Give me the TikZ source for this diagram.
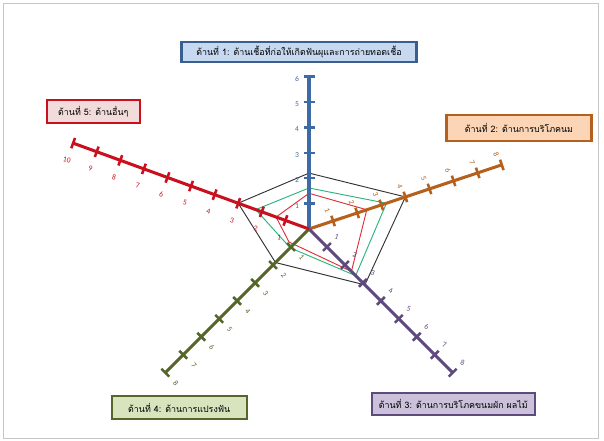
\documentclass[tikz,border=0pt]{standalone}
\usepackage{fontspec}
\setmainfont{Carlito}
\newfontfamily\thaifont[Script=Thai]{Loma}
\usetikzlibrary{calc}
\definecolor{axblue}{HTML}{3E6AA6}
\definecolor{axorange}{HTML}{B5601C}
\definecolor{axpurple}{HTML}{5E4A7D}
\definecolor{axolive}{HTML}{566629}
\definecolor{axred}{HTML}{C8101E}
\definecolor{fblue}{HTML}{C6D9F1}
\definecolor{forange}{HTML}{FBD5B5}
\definecolor{fpurple}{HTML}{CCC1DA}
\definecolor{folive}{HTML}{D7E4BD}
\definecolor{fred}{HTML}{F2DCDB}
\definecolor{dblue}{HTML}{3B5E91}
\definecolor{polyk}{HTML}{333333}
\definecolor{polyg}{HTML}{2DB37B}
\definecolor{polyr}{HTML}{E0303A}
\tikzset{
  axisline/.style={line width=2.6pt},
  tickline/.style={line width=2.2pt},
  ticklbl/.style={font=\fontsize{6.5}{7}\selectfont, inner sep=0pt},
  polyline/.style={line width=0.8pt, line join=miter},
  legendbox/.style={line width=1.8pt, inner sep=0pt, font=\thaifont\fontsize{7.6}{9}\selectfont, align=center}
}
\begin{document}
\begin{tikzpicture}[x=0.03cm,y=0.03cm]
\useasboundingbox (0,0) rectangle (604,441);
\draw[gray!45, line width=0.6pt] (3,3) rectangle (598,438);
\coordinate (o) at (309,212);

% polygons
\begin{scope}[shift={(o)}]
\draw[polyline, polyk] (90:55.9) -- (18.4:101.6) -- (-45:79) -- (-135:47.4) -- (160:75.4) -- cycle;
\draw[polyline, polyg] (90:41) -- (18.4:81.6) -- (-45:66) -- (-135:26.6) -- (160:56.7) -- cycle;
\draw[polyline, polyr] (90:35.7) -- (18.4:60.9) -- (-45:60) -- (-20,-13) -- (160:35) -- cycle;
\end{scope}

% axis 1 (blue)
\begin{scope}[shift={(o)}, rotate=90]
\coordinate (e1) at (6*25.4,0);
\draw[axisline, axblue] (0,0) -- (e1);
\foreach \i in {1,...,6} {
  \draw[tickline, axblue] (\i*25.4,-5.5) -- (\i*25.4,5.5);
  \node[ticklbl, text=axblue] (l1\i) at (\i*25.4-2,12) {\i};
}
\end{scope}
% axis 2 (orange)
\begin{scope}[shift={(o)}, rotate=18.4]
\coordinate (e2) at (8*25.4,0);
\draw[axisline, axorange] (0,0) -- (e2);
\foreach \i in {1,...,8} {
  \draw[tickline, axorange] (\i*25.4,-5.5) -- (\i*25.4,5.5);
  \node[ticklbl, text=axorange, rotate=-70] (l2\i) at (\i*25.4-2,12) {\i};
}
\end{scope}
% axis 3 (purple)
\begin{scope}[shift={(o)}, rotate=-45]
\coordinate (e3) at (8*25.4,0);
\draw[axisline, axpurple] (0,0) -- (e3);
\foreach \i in {1,...,8} {
  \draw[tickline, axpurple] (\i*25.4,-5.5) -- (\i*25.4,5.5);
  \node[ticklbl, text=axpurple, rotate=-20] (l3\i) at (\i*25.4,14) {\i};
}
\end{scope}
% axis 4 (olive)
\begin{scope}[shift={(o)}, rotate=-135]
\coordinate (e4) at (8*25.4,0);
\draw[axisline, axolive] (0,0) -- (e4);
\foreach \i in {1,...,8} {
  \draw[tickline, axolive] (\i*25.4,-5.5) -- (\i*25.4,5.5);
  \node[ticklbl, text=axolive, rotate=-50] (l4\i) at (\i*25.4,15) {\i};
}
\end{scope}
% axis 5 (red)
\begin{scope}[shift={(o)}, rotate=160]
\coordinate (e5) at (10*25.1,0);
\draw[axisline, axred] (0,0) -- (e5);
\foreach \i in {1,...,10} {
  \draw[tickline, axred] (\i*25.1,-5.5) -- (\i*25.1,5.5);
  \node[ticklbl, text=axred, rotate=-12] (l5\i) at (\i*25.1,18) {\i};
}
\end{scope}

% legend boxes
\node[legendbox, draw=dblue, fill=fblue, minimum width=7.05cm, minimum height=0.6cm] (b1) at (299,389.3)
  {ด้านที่ 1: ด้านเชื้อที่ก่อให้เกิดฟันผุและการถ่ายทอดเชื้อ};
\node[legendbox, draw=axorange, fill=forange, minimum width=4.35cm, minimum height=0.78cm] (b2) at (519,313)
  {ด้านที่ 2: ด้านการบริโภคนม};
\node[legendbox, draw=axpurple, fill=fpurple, minimum width=4.9cm, minimum height=0.66cm] (b3) at (453.3,36.8)
  {ด้านที่ 3: ด้านการบริโภคขนมผัก ผลไม้};
\node[legendbox, draw=axolive, fill=folive, minimum width=4.05cm, minimum height=0.7cm] (b4) at (179.2,33.3)
  {ด้านที่ 4: ด้านการแปรงฟัน};
\node[legendbox, draw=axred, fill=fred, minimum width=2.8cm, minimum height=0.7cm] (b5) at (93.3,329.3)
  {ด้านที่ 5: ด้านอื่นๆ};
\end{tikzpicture}
\end{document}
